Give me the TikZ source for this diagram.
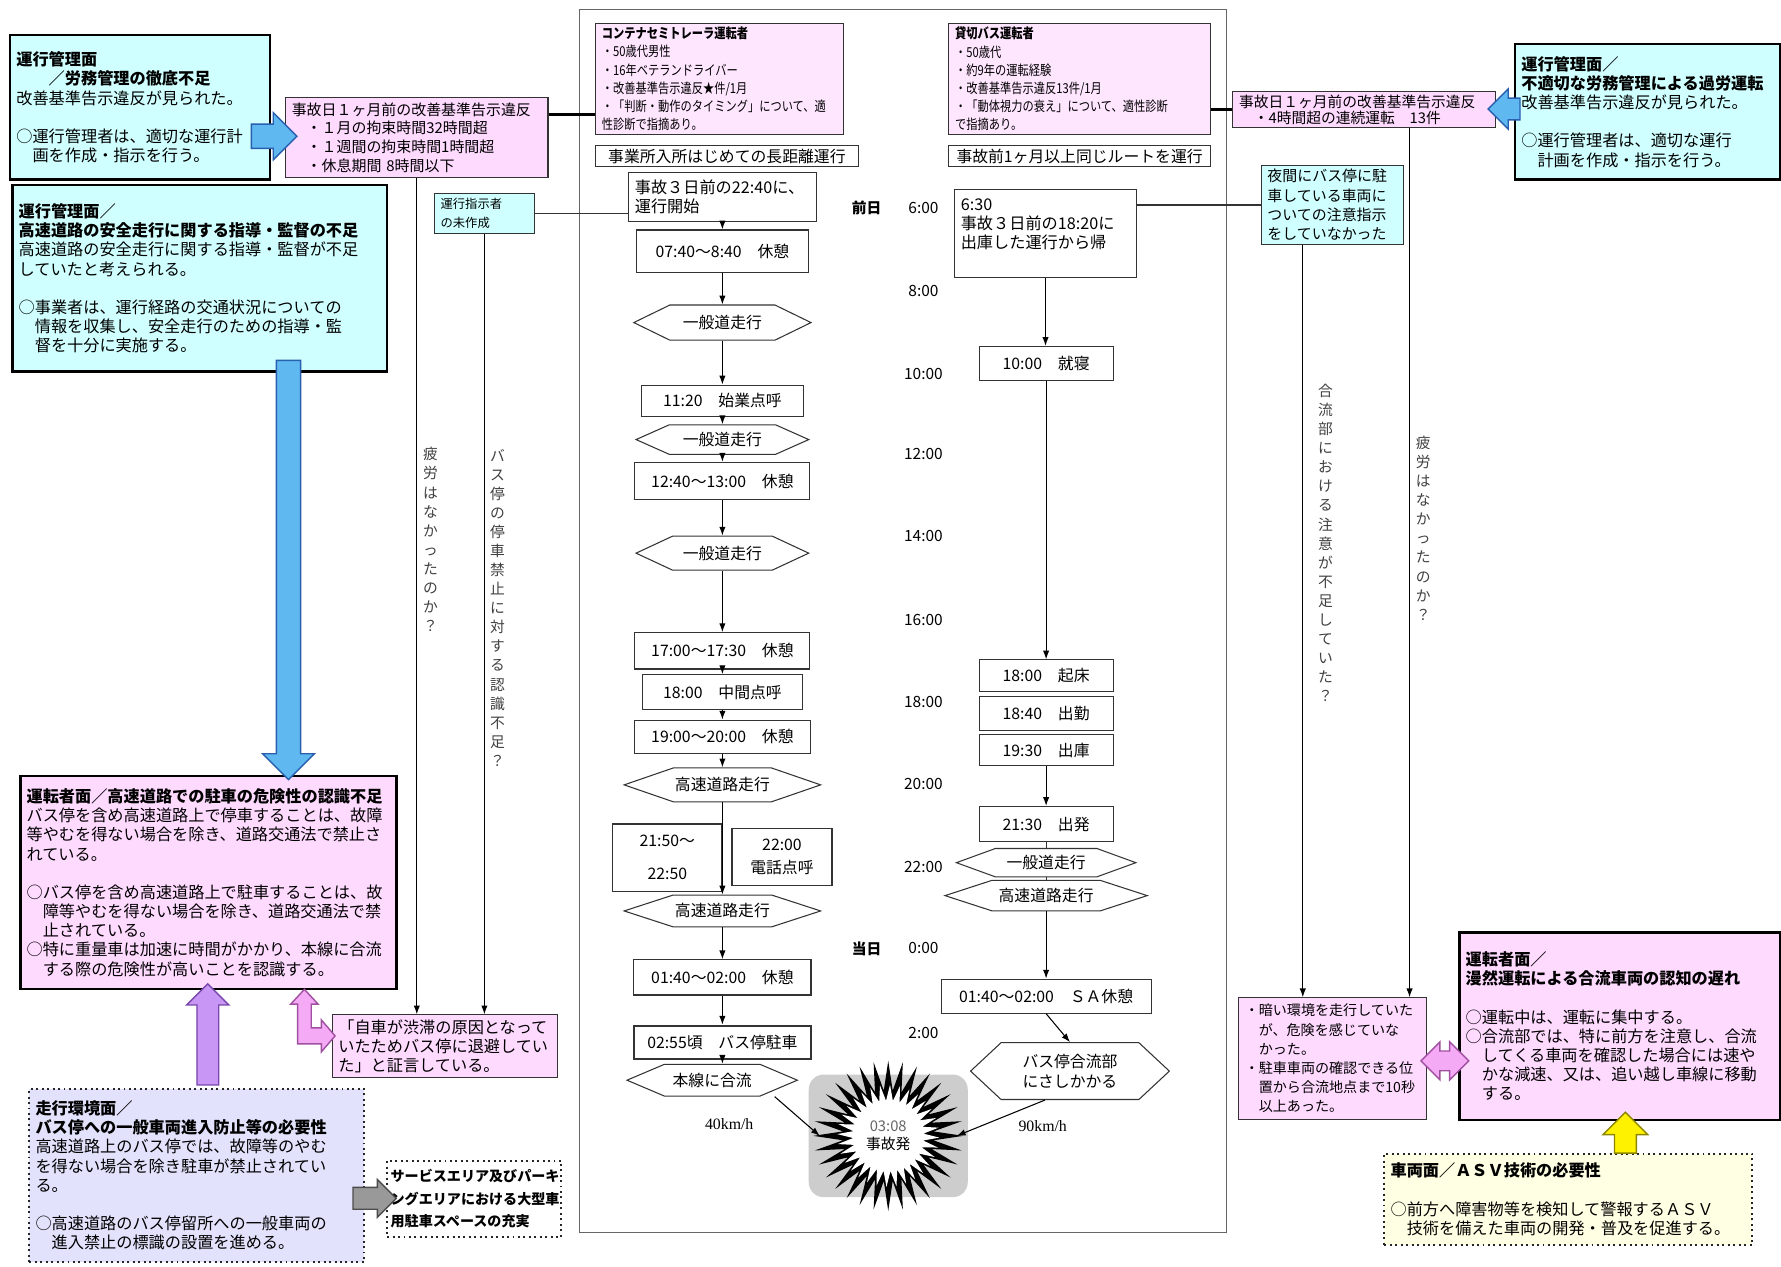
\documentclass[tikz,border=0pt]{standalone}
\usepackage{fontspec}
\setmainfont{Noto Sans CJK JP}
\newfontfamily\narrowjp[FakeStretch=0.82]{Noto Sans CJK JP}
\newfontfamily\speedfont{Liberation Serif}
\usetikzlibrary{positioning, arrows.meta, shapes.symbols, shapes.arrows, calc}

\definecolor{cyanfill}{RGB}{208,255,255}
\definecolor{pinkfill}{RGB}{255,218,255}
\definecolor{paleink}{RGB}{255,230,255}
\definecolor{lavfill}{RGB}{226,226,252}
\definecolor{creamfill}{RGB}{255,255,228}
\definecolor{bluefill}{RGB}{95,185,240}
\definecolor{blueline}{RGB}{40,95,175}
\definecolor{violetfill}{RGB}{200,150,245}
\definecolor{violetline}{RGB}{120,70,170}
\definecolor{rosefill}{RGB}{245,170,245}
\definecolor{roseline}{RGB}{160,80,160}
\definecolor{crashgray}{RGB}{205,205,205}

\def\pu{0.0227cm}
\newcommand{\bodyfont}{\fontsize{9.2}{10.9}\selectfont}
\newcommand{\smallfont}{\fontsize{8.5}{10.6}\selectfont}
\newcommand{\condfont}{\narrowjp\fontsize{7.8}{10.3}\selectfont}

\begin{document}
\begin{tikzpicture}[x=\pu, y=-\pu,
    every node/.style={font=\bodyfont, inner sep=0pt},
    tbox/.style 2 args={anchor=north west, text width=#1*\pu-7pt, minimum height=#2*\pu, inner xsep=3.5pt, align=left},
    fsize/.style 2 args={minimum width=#1*\pu, minimum height=#2*\pu},
    heavy/.style={draw, line width=1.3pt},
    light/.style={draw=black!80, line width=0.6pt},
    dots/.style={draw=black!85, line width=1.1pt, dotted},
    flow/.style={light, fill=white, align=center, font=\fontsize{9}{11}\selectfont},
    hexa/.style={light, fill=white, signal, signal to=west and east, align=center, font=\fontsize{9}{11}\selectfont},
    arr/.style={line width=0.6pt, -{Latex[length=5pt, width=3.6pt]}},
    link/.style={line width=0.6pt, black!80},
    bus/.style={line width=2pt},
    vlabel/.style={font=\fontsize{8.4}{10.85}\selectfont, align=center, text=black!75},
    hour/.style={font=\fontsize{8.8}{10}\selectfont},
    dayname/.style={font=\bfseries\fontsize{8.4}{10}\selectfont},
    blk/.style={single arrow, inner xsep=0pt, single arrow tip angle=90, line width=0.8pt}]

  \useasboundingbox (0,0) rectangle (1568,1115);
  \def\colL{636}
  \def\colR{921}

  % timeline frame
  \draw[light, draw=black!60] (510,8) rectangle (1080,1085);

  % ---- left side: measures ----
  \node[tbox={229}{127}, heavy, fill=cyanfill] (mgmtA) at (8,30)
    {\textbf{運行管理面}\\
     \textbf{　　／労務管理の徹底不足}\\
     改善基準告示違反が見られた。\\[10.9pt]
     ○運行管理者は、適切な運行計\\
     　画を作成・指示を行う。};
  \node[tbox={231}{71}, light, fill=pinkfill, font=\smallfont] (lawB) at (251,85)
    {事故日１ヶ月前の改善基準告示違反\\
     　・１月の拘束時間32時間超\\
     　・１週間の拘束時間1時間超\\
     　・休息期間 8時間以下};
  \node[tbox={330}{164}, heavy, fill=cyanfill] (mgmtC) at (10,162)
    {\textbf{運行管理面／}\\
     \textbf{高速道路の安全走行に関する指導・監督の不足}\\
     高速道路の安全走行に関する指導・監督が不足\\
     していたと考えられる。\\[10.9pt]
     ○事業者は、運行経路の交通状況についての\\
     　情報を収集し、安全走行のための指導・監\\
     　督を十分に実施する。};
  \node[tbox={88}{35}, light, fill=cyanfill, font=\fontsize{7}{10.8}\selectfont] (instH) at (382,170)
    {運行指示者\\の未作成};
  \node[tbox={331}{188}, heavy, fill=pinkfill] (drvD) at (17,682)
    {\textbf{運転者面／高速道路での駐車の危険性の認識不足}\\
     バス停を含め高速道路上で停車することは、故障\\
     等やむを得ない場合を除き、道路交通法で禁止さ\\
     れている。\\[10.9pt]
     ○バス停を含め高速道路上で駐車することは、故\\
     　障等やむを得ない場合を除き、道路交通法で禁\\
     　止されている。\\
     ○特に重量車は加速に時間がかかり、本線に合流\\
     　する際の危険性が高いことを認識する。};
  \node[tbox={198}{55}, light, fill=pinkfill] (testF) at (292,893)
    {「自車が渋滞の原因となって\\
     いたためバス停に退避してい\\
     た」と証言している。};
  \node[tbox={295}{152}, dots, fill=lavfill] (envE) at (25,958)
    {\textbf{走行環境面／}\\
     \textbf{バス停への一般車両進入防止等の必要性}\\
     高速道路上のバス停では、故障等のやむ\\
     を得ない場合を除き駐車が禁止されてい\\
     る。\\[10.9pt]
     ○高速道路のバス停留所への一般車両の\\
     　進入禁止の標識の設置を進める。};
  \node[tbox={158}{67}, dots, fill=white, inner xsep=2pt, font=\bfseries\fontsize{8}{12.8}\selectfont] (saG) at (340,1021)
    {サービスエリア及びパーキ\\
     ングエリアにおける大型車\\
     用駐車スペースの充実};

  % ---- trailer driver ----
  \node[tbox={218}{98}, light, fill=paleink, font=\condfont] (trlI) at (524,20)
    {\textbf{コンテナセミトレーラ運転者}\\
     ・50歳代男性\\
     ・16年ベテランドライバー\\
     ・改善基準告示違反★件/1月\\
     ・「判断・動作のタイミング」について、適\\
     性診断で指摘あり。};
  \node[flow, fsize={231}{18}, anchor=north west] (trlJ) at (524,128) {事業所入所はじめての長距離運行};
  \node[tbox={165}{43}, anchor=center, light, fill=white] (startK) at (\colL,173.5)
    {事故３日前の22:40に、\\運行開始};
  \node[flow, fsize={152}{37}] (rest1) at (\colL,221) {07:40～8:40　休憩};
  \node[hexa, fsize={156}{31}, signal pointer angle=52] (road1) at (\colL,284) {一般道走行};
  \node[flow, fsize={142}{28}] (call1) at (\colL,353) {11:20　始業点呼};
  \node[hexa, fsize={152}{26}, signal pointer angle=48] (road2) at (\colL,387) {一般道走行};
  \node[flow, fsize={154}{33}] (rest2) at (\colL,423.5) {12:40～13:00　休憩};
  \node[hexa, fsize={152}{30}, signal pointer angle=50] (road3) at (\colL,487) {一般道走行};
  \node[flow, fsize={154}{32}] (rest3) at (\colL,573) {17:00～17:30　休憩};
  \node[flow, fsize={141}{31}] (call2) at (\colL,609.5) {18:00　中間点呼};
  \node[flow, fsize={155}{29}] (rest4) at (\colL,648.5) {19:00～20:00　休憩};
  \node[hexa, fsize={173}{30}, signal pointer angle=38] (hwy1) at (\colL,691) {高速道路走行};
  \node[flow, fsize={96}{59}, anchor=north east] (rest5) at (\colL,725) {21:50～\\[8pt]22:50};
  \node[flow, fsize={88}{50}, anchor=north west] (call3) at (644,729) {22:00\\[2pt]電話点呼};
  \node[hexa, fsize={173}{28}, signal pointer angle=36] (hwy2) at (\colL,802) {高速道路走行};
  \node[flow, fsize={156}{31}] (rest6) at (\colL,860.5) {01:40～02:00　休憩};
  \node[flow, fsize={156}{29}, line width=1.1pt] (stop) at (\colL,917.5) {02:55頃　バス停駐車};
  \node[hexa, fsize={150}{28}, signal pointer angle=46] (merge) at (627,951) {本線に合流};

  \draw[arr] (startK.south) -- (startK.south |- rest1.north);
  \draw[arr] (rest1.south) -- (rest1.south |- road1.north);
  \draw[arr] (road1.south) -- (road1.south |- call1.north);
  \draw[arr] (call1.south) -- (call1.south |- road2.north);
  \draw[arr] (road2.south) -- (road2.south |- rest2.north);
  \draw[arr] (rest2.south) -- (rest2.south |- road3.north);
  \draw[arr] (road3.south) -- (road3.south |- rest3.north);
  \draw[arr] (rest3.south) -- (rest3.south |- call2.north);
  \draw[arr] (call2.south) -- (call2.south |- rest4.north);
  \draw[arr] (rest4.south) -- (rest4.south |- hwy1.north);
  \draw[arr] (hwy1.south) -- (hwy1.south |- hwy2.north);
  \draw[arr] (hwy2.south) -- (hwy2.south |- rest6.north);
  \draw[arr] (rest6.south) -- (rest6.south |- stop.north);
  \draw[arr] (stop.south) -- (stop.south |- merge.north);

  % ---- clock ----
  \node[dayname] (dayBefore) at (763,183) {前日};
  \node[hour] (h06) at (813,183) {6:00};
  \node[hour] (h08) at (813,256) {8:00};
  \node[hour] (h10) at (813,329) {10:00};
  \node[hour] (h12) at (813,400) {12:00};
  \node[hour] (h14) at (813,472) {14:00};
  \node[hour] (h16) at (813,546) {16:00};
  \node[hour] (h18) at (813,618) {18:00};
  \node[hour] (h20) at (813,690) {20:00};
  \node[hour] (h22) at (813,763) {22:00};
  \node[dayname] (dayOf) at (763,835) {当日};
  \node[hour] (h00) at (813,835) {0:00};
  \node[hour] (h02) at (813,909) {2:00};

  % ---- bus driver ----
  \node[tbox={230}{98}, light, fill=paleink, font=\condfont] (busL) at (835,20)
    {\textbf{貸切バス運転者}\\
     ・50歳代\\
     ・約9年の運転経験\\
     ・改善基準告示違反13件/1月\\
     ・「動体視力の衰え」について、適性診断\\
     で指摘あり。};
  \node[flow, fsize={230}{18}, anchor=north west] (busM) at (835,128) {事故前1ヶ月以上同じルートを運行};
  \node[tbox={160}{78}, light, fill=white] (homeN) at (840,166)
    {6:30\\事故３日前の18:20に\\出庫した運行から帰\\\mbox{}};
  \node[flow, fsize={118}{30}] (sleep) at (\colR,320) {10:00　就寝};
  \node[flow, fsize={118}{28}] (wake) at (\colR,595) {18:00　起床};
  \node[flow, fsize={118}{30}] (duty) at (\colR,628) {18:40　出勤};
  \node[flow, fsize={118}{27}] (depot) at (\colR,660.5) {19:30　出庫};
  \node[flow, fsize={118}{31}] (depart) at (\colR,725.5) {21:30　出発};
  \node[hexa, fsize={158}{25}, signal pointer angle=40] (road4) at (\colR,759.5) {一般道走行};
  \node[hexa, fsize={178}{27}, signal pointer angle=36] (hwy3) at (\colR,788.5) {高速道路走行};
  \node[flow, fsize={185}{30}] (saRest) at (\colR,877) {01:40～02:00　ＳＡ休憩};
  \node[hexa, fsize={175}{50}, signal pointer angle=86] (joinPt) at (942,943) {バス停合流部\\にさしかかる};

  \draw[arr] (homeN.south) -- (homeN.south |- sleep.north);
  \draw[arr] (sleep.south) -- (sleep.south |- wake.north);
  \draw[arr] (depot.south) -- (depot.south |- depart.north);
  \draw[link] (depart.south) -- (depart.south |- road4.north);
  \draw[link] (road4.south) -- (road4.south |- hwy3.north);
  \draw[arr] (hwy3.south) -- (hwy3.south |- saRest.north);
  \draw[arr] (saRest.south) -- (joinPt.north);

  % ---- crash ----
  \fill[crashgray, rounded corners=0.3cm] (712,946) rectangle (852,1054);
  \fill[shift={(782,1000)}] plot[domain=0:64, samples=65] ({cos(\x*5.625)*(53+13*cos(\x*180))}, {sin(\x*5.625)*(53+13*cos(\x*180))}) -- cycle;
  \fill[white, shift={(782,1000)}] plot[domain=0:64, samples=65] ({cos(\x*5.625+2)*(38+7*cos(\x*180))}, {sin(\x*5.625+2)*(38+7*cos(\x*180))}) -- cycle;
  \node[circle, fsize={120}{120}, align=center, font=\fontsize{8.4}{10.5}\selectfont] (crash) at (782,1000)
    {\textcolor{black!60}{03:08}\\事故発};
  \draw[arr] ([xshift=55*\pu]merge.south) -- (crash.west);
  \draw[arr] ([xshift=-22*\pu]joinPt.south) -- (crash.east);
  \node[font=\speedfont\fontsize{9}{10}\selectfont] (slowV) at (642,990) {40km/h};
  \node[font=\speedfont\fontsize{9}{10}\selectfont] (fastV) at (918,991) {90km/h};

  % ---- right side: measures ----
  \node[tbox={231}{32}, light, fill=pinkfill, font=\fontsize{8.4}{9.3}\selectfont] (lawO) at (1085,80)
    {事故日１ヶ月前の改善基準告示違反\\
     　・4時間超の連続運転　13件};
  \node[tbox={233}{119}, heavy, fill=cyanfill] (mgmtP) at (1333,38)
    {\textbf{運行管理面／}\\
     \textbf{不適切な労務管理による過労運転}\\
     改善基準告示違反が見られた。\\[10.9pt]
     ○運行管理者は、適切な運行\\
     　計画を作成・指示を行う。};
  \node[tbox={125}{70}, light, fill=cyanfill, font=\fontsize{8.5}{11}\selectfont] (instQ) at (1110,145)
    {夜間にバス停に駐\\
     車している車両に\\
     ついての注意指示\\
     をしていなかった};
  \node[tbox={165}{107}, light, fill=pinkfill, font=\fontsize{8}{10.9}\selectfont] (factR) at (1090,878)
    {・暗い環境を走行していた\\
     　が、危険を感じていな\\
     　かった。\\
     ・駐車車両の確認できる位\\
     　置から合流地点まで10秒\\
     　以上あった。};
  \node[tbox={282}{165}, heavy, fill=pinkfill] (drvS) at (1284,820)
    {\textbf{運転者面／}\\
     \textbf{漫然運転による合流車両の認知の遅れ}\\[10.9pt]
     ○運転中は、運転に集中する。\\
     ○合流部では、特に前方を注意し、合流\\
     　してくる車両を確認した場合には速や\\
     　かな減速、又は、追い越し車線に移動\\
     　する。};
  \node[tbox={324}{80}, dots, fill=creamfill] (vehT) at (1218,1015)
    {\textbf{車両面／ＡＳＶ技術の必要性}\\[10.9pt]
     ○前方へ障害物等を検知して警報するＡＳＶ\\
     　技術を備えた車両の開発・普及を促進する。};

  % ---- connectors ----
  \coordinate (bLink) at ([yshift=20*\pu]lawB.east);
  \draw[bus] (bLink) -- (bLink -| trlI.west);
  \draw[bus] (busL.east |- lawO.west) -- (lawO.west);
  \draw[link] (instH.east) -- (instH.east -| startK.west);
  \draw[link] (instQ.west) -- (instQ.west -| homeN.east);
  \draw[arr] (lawB.south) -- (lawB.south |- testF.north);
  \draw[arr] (instH.south) -- (instH.south |- testF.north);
  \coordinate (qDrop) at ([xshift=-26*\pu]instQ.south);
  \draw[arr] (qDrop) -- (qDrop |- factR.north);
  \coordinate (oDrop) at ([xshift=40*\pu]lawO.south);
  \draw[arr] (oDrop) -- (oDrop |- factR.north);

  \node[vlabel] (tiredL) at (379,475) {疲\\労\\は\\な\\か\\っ\\た\\の\\か\\？};
  \node[vlabel] (ruleL) at (438,535) {バ\\ス\\停\\の\\停\\車\\禁\\止\\に\\対\\す\\る\\認\\識\\不\\足\\？};
  \node[vlabel] (careR) at (1167,478) {合\\流\\部\\に\\お\\け\\る\\注\\意\\が\\不\\足\\し\\て\\い\\た\\？};
  \node[vlabel] (tiredR) at (1253,465) {疲\\労\\は\\な\\か\\っ\\た\\の\\か\\？};

  % ---- block arrows ----
  \node[blk, draw=blueline, fill=bluefill, minimum height=40*\pu, inner ysep=6.5pt, single arrow head extend=6.5pt] (arrAB) at (236,120) {};
  \node[blk, draw=blueline, fill=bluefill, minimum height=369*\pu, inner ysep=6.5pt, single arrow head extend=7.8pt, rotate=-90] (arrCD) at (254,496.5) {};
  \node[blk, draw=violetline, fill=violetfill, minimum height=89*\pu, inner ysep=5.8pt, single arrow head extend=5.8pt, rotate=90] (arrED) at (183,915.5) {};
  \node[blk, draw=black!70, fill=black!40, minimum height=38*\pu, inner ysep=5.8pt, single arrow head extend=4.5pt] (arrEG) at (325,1055) {};
  \node[blk, draw=olive, fill=yellow, minimum height=36*\pu, inner ysep=5.8pt, single arrow head extend=6.5pt, rotate=90] (arrTS) at (1431,1002) {};
  \node[blk, draw=blueline, fill=bluefill, minimum height=28*\pu, inner ysep=5.8pt, single arrow head extend=5.2pt, rotate=180] (arrPO) at (1329,96) {};
  \node[double arrow, draw=roseline, fill=rosefill, line width=0.8pt, inner xsep=0pt, inner ysep=5.2pt, double arrow tip angle=90, double arrow head extend=5.2pt, minimum height=42*\pu] (arrRS) at (1272,934) {};
  \draw[draw=roseline, fill=rosefill, line width=0.8pt] (268,871) -- (280,884) -- (274,884) -- (274,905) -- (283,905) -- (283,898) -- (295,912) -- (283,926) -- (283,919) -- (262,919) -- (262,884) -- (256,884) -- cycle;
\end{tikzpicture}
\end{document}
